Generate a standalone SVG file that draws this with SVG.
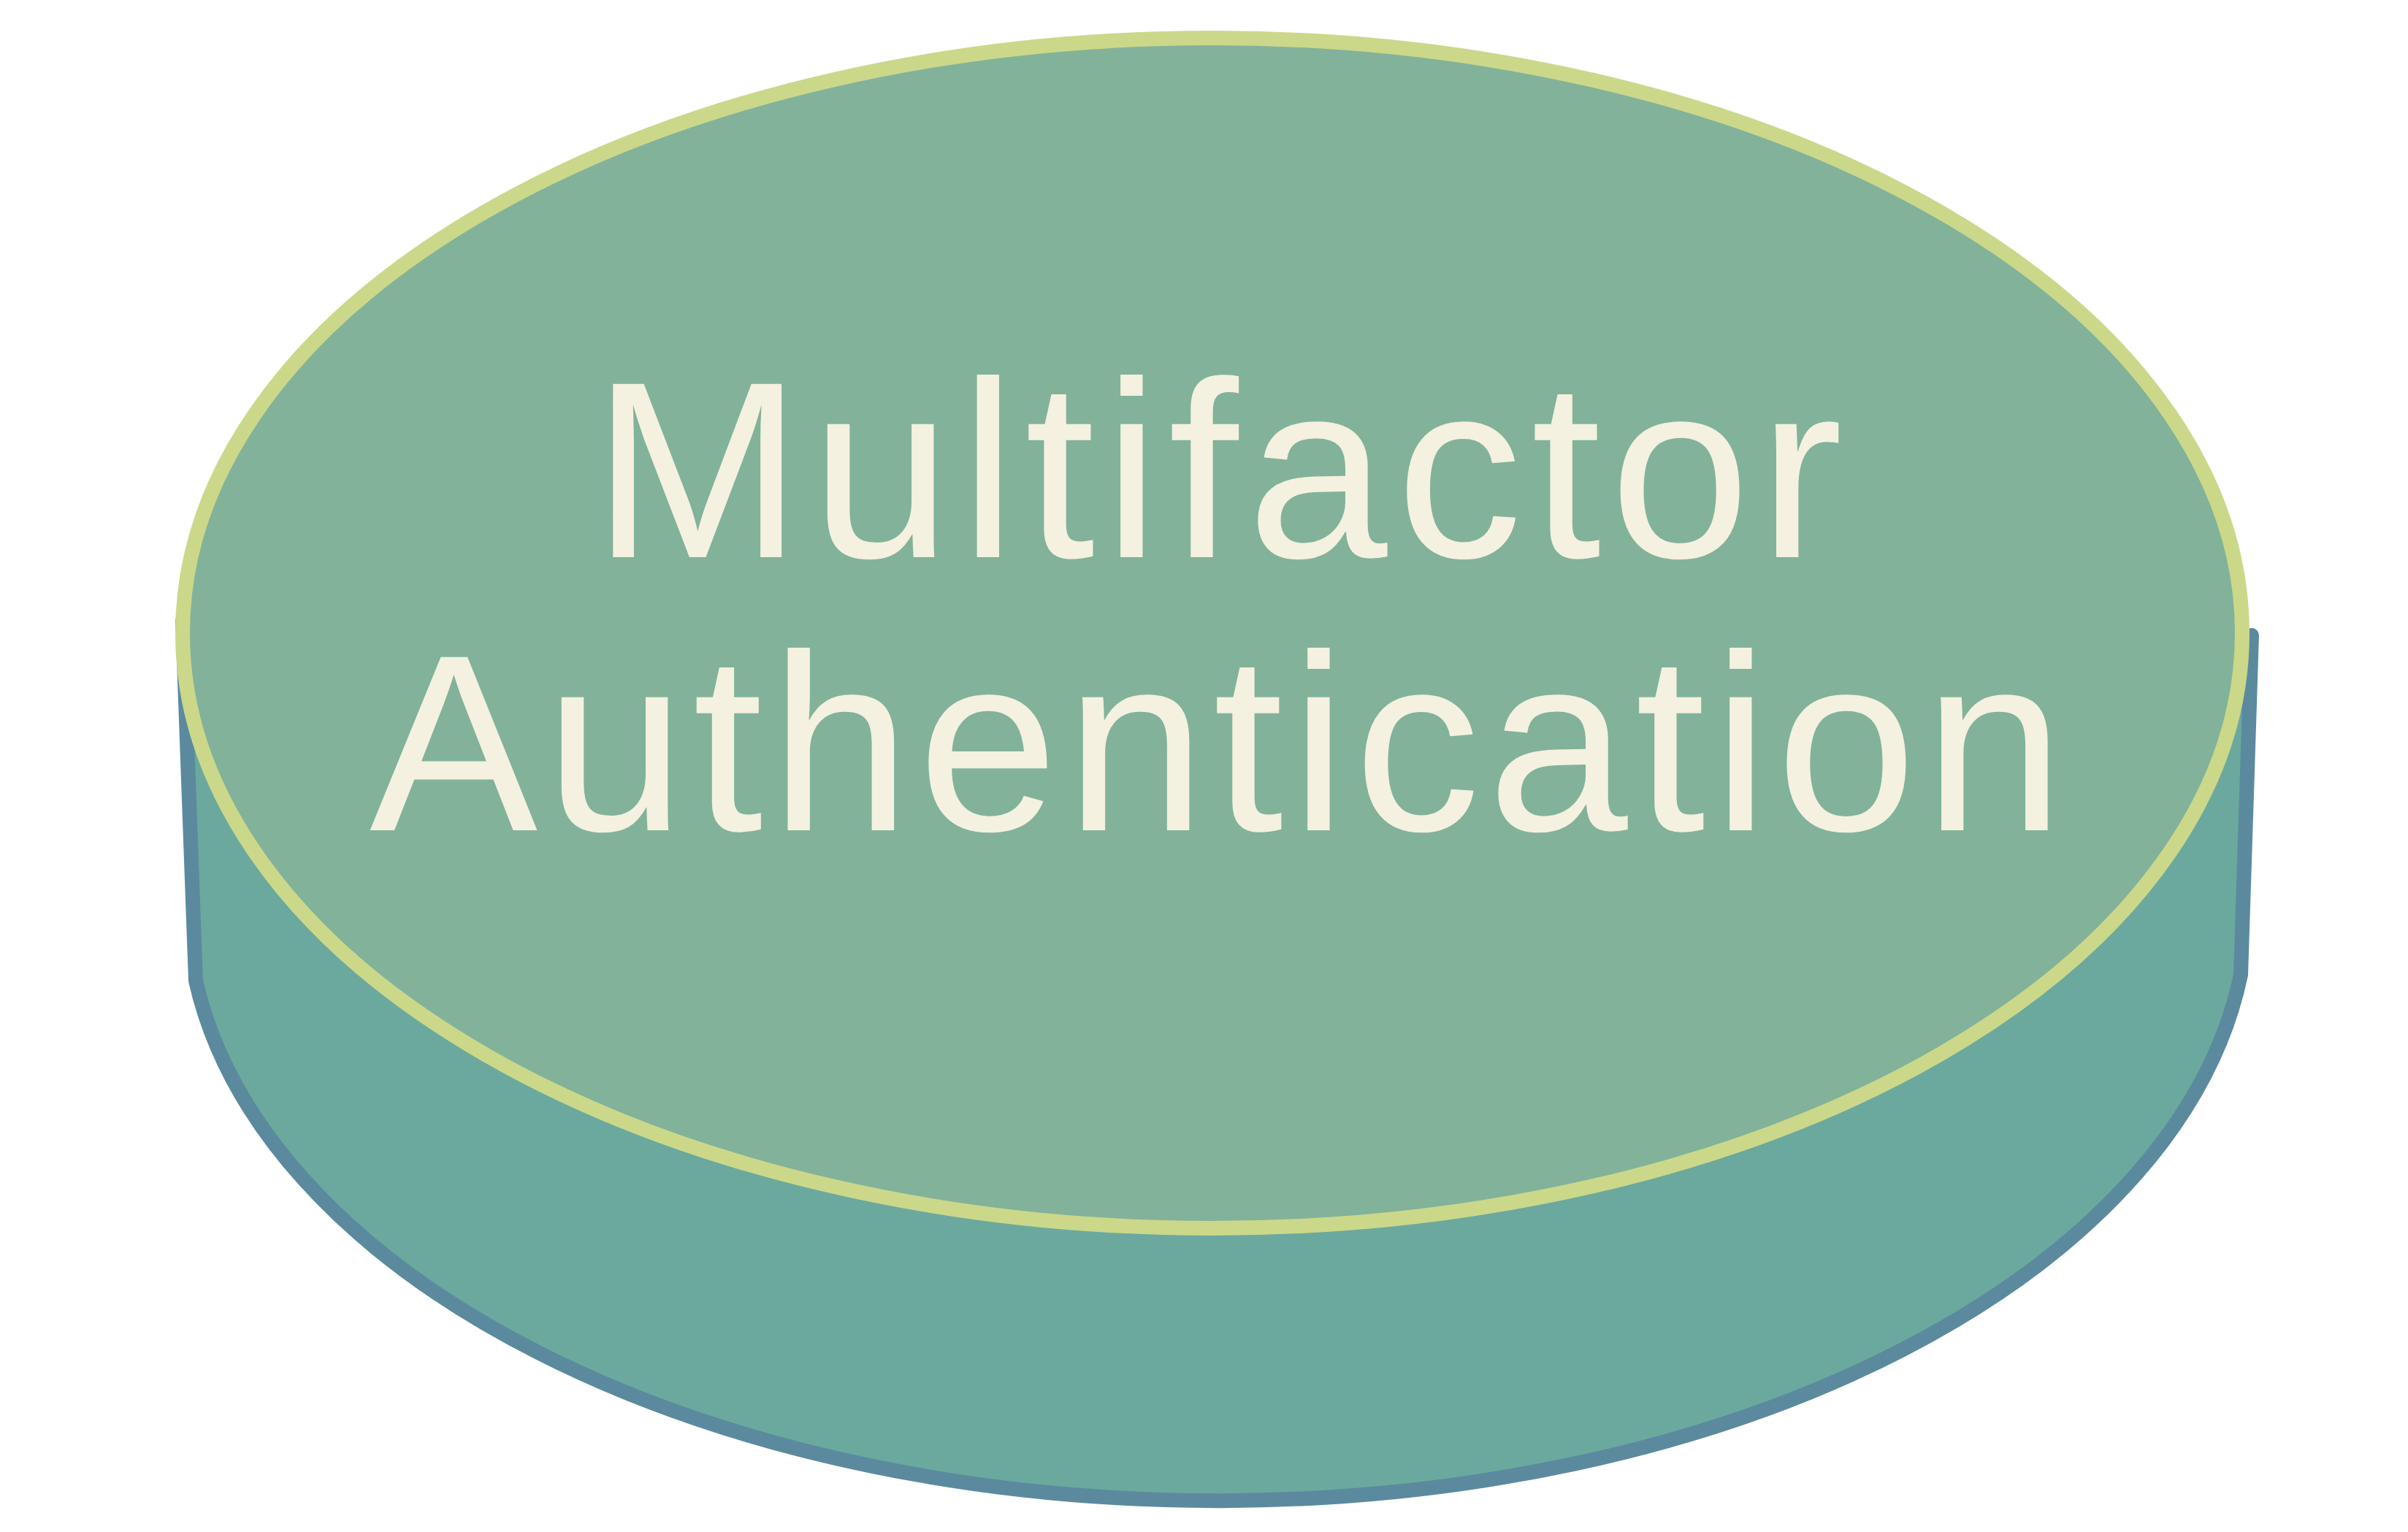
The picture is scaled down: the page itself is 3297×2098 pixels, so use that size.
<svg xmlns="http://www.w3.org/2000/svg" width="3297" height="2098" viewBox="0 0 3297 2098">
  <style>
    .body-fill { fill: #6BA99E; stroke: none; }
    .body-line { fill: none; stroke: #5B8A9F; stroke-width: 20; stroke-linejoin: round; stroke-linecap: round; }
    .top { fill: #82B29A; stroke: #CBD88A; stroke-width: 20; }
    .label { font-family: "Liberation Sans", Arial, sans-serif; font-size: 345px; fill: #F4F1E1; }
  </style>
  <rect x="0" y="0" width="3297" height="2098" fill="#FFFFFF"/>
  <g id="mfa-cylinder">
    <path class="body-fill" d="M 250 850 L 268 1343 A 1411 818 0 0 0 3068 1335 L 3083 870 Z"/>
    <path class="body-line" d="M 250 850 L 268 1343 A 1411 818 0 0 0 3068 1335 L 3083 870"/>
    <ellipse class="top" cx="1660" cy="867" rx="1410" ry="815"/>
    <text class="label" x="811" y="763" textLength="1712" lengthAdjust="spacing">Multifactor</text>
    <text class="label" x="506" y="1137" textLength="2320" lengthAdjust="spacing">Authentication</text>
  </g>
</svg>
